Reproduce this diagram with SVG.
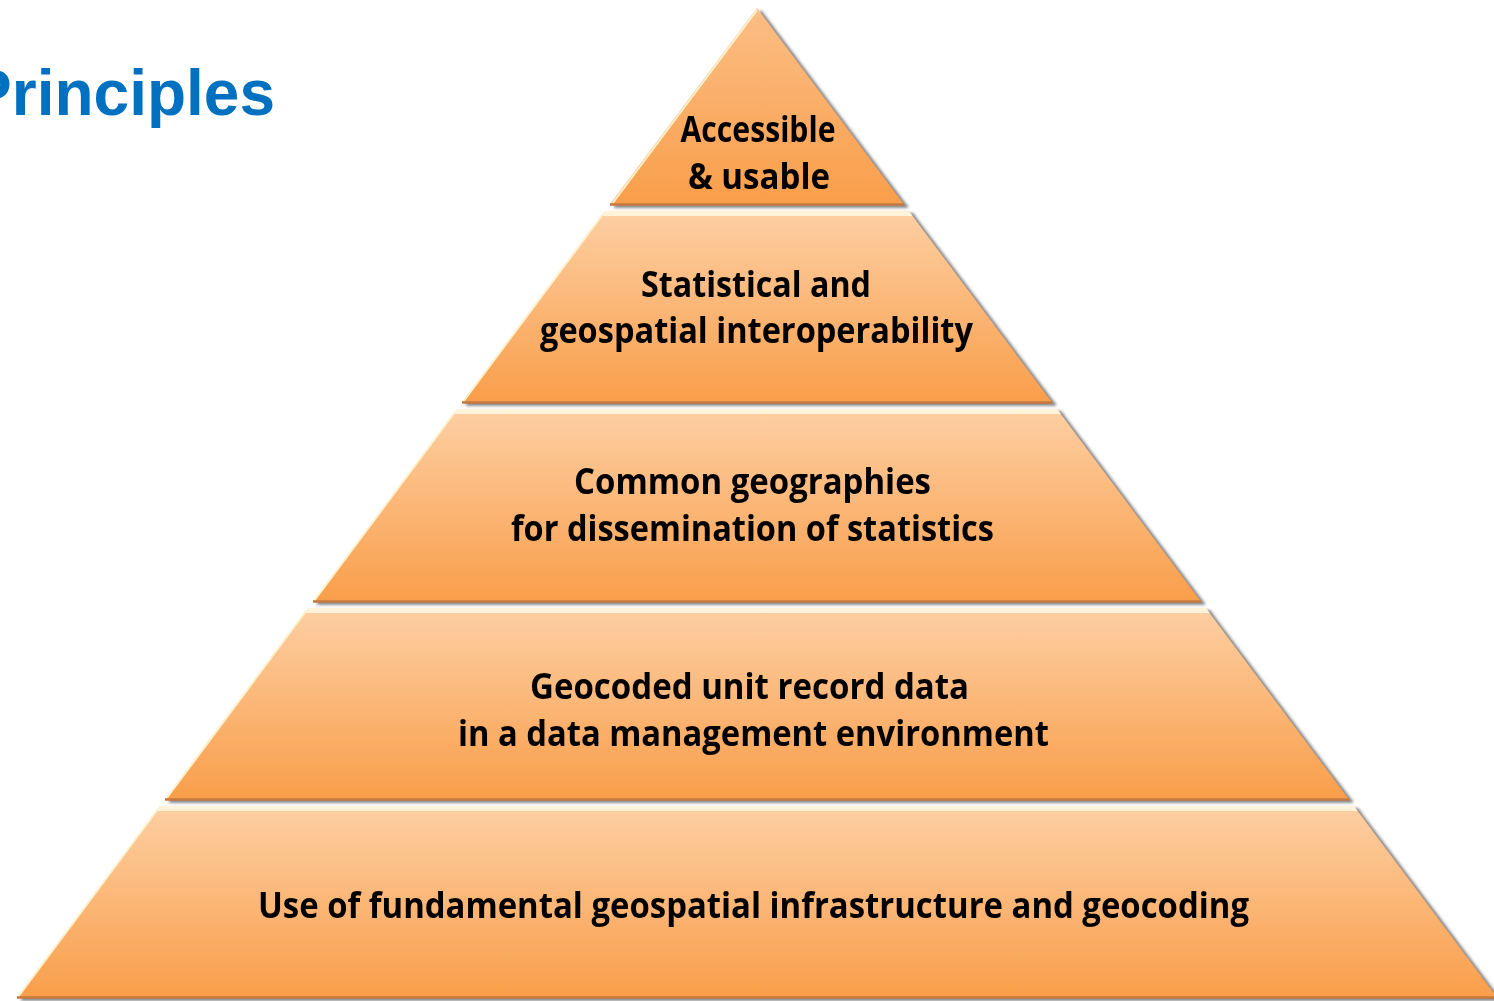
<svg xmlns="http://www.w3.org/2000/svg" width="1494" height="1001" viewBox="0 0 1494 1001">
<style>
.lbl{font-family:"Open Sans","Liberation Sans",sans-serif;font-weight:700;font-size:35px;fill:#000;text-anchor:middle}
.title{font-family:"Liberation Sans",Arial,sans-serif;font-weight:bold;font-size:64px;fill:#0070C0;text-anchor:end}
.body{fill:url(#g)}
.hl{fill:#FFF3DA}
.edge{stroke:#FFF1CC;stroke-width:2;fill:none}
.base{stroke:#C47A3E;stroke-width:2.5}
</style>
<defs>
<linearGradient id="g" x1="0" y1="0" x2="0" y2="1">
<stop offset="0" stop-color="#FDCFA3"/>
<stop offset="1" stop-color="#F99E4A"/>
</linearGradient>
<linearGradient id="g1" x1="0" y1="0" x2="0" y2="1">
<stop offset="0" stop-color="#FBBE85"/>
<stop offset="1" stop-color="#F99E4A"/>
</linearGradient>
<filter id="sh" x="-5%" y="-5%" width="110%" height="115%">
<feGaussianBlur in="SourceAlpha" stdDeviation="1.6" result="b"/>
<feOffset in="b" dx="3.5" dy="1.5" result="o"/>
<feFlood flood-color="#808080" flood-opacity="1"/>
<feComposite in2="o" operator="in" result="s"/>
<feMerge><feMergeNode in="s"/><feMergeNode in="SourceGraphic"/></feMerge>
</filter>
</defs>
<rect width="1494" height="1001" fill="#FFFFFF"/>
<text class="title" x="275" y="115">Principles</text>
<g id="layer1" filter="url(#sh)">
<polygon points="757,8 904.4,205 609.6,205" fill="url(#g1)"/>
<line class="edge" x1="757" y1="10" x2="612" y2="204"/>
<line class="base" x1="610" y1="204.5" x2="904" y2="204.5"/>
<text class="lbl" x="758" y="142" textLength="155" lengthAdjust="spacingAndGlyphs">Accessible</text>
<text class="lbl" x="759" y="189" textLength="142" lengthAdjust="spacingAndGlyphs">&amp; usable</text>
</g>
<g id="layer2" filter="url(#sh)">
<polygon class="body" points="605.2,211 908.8,211 1052.5,403 461.5,403"/>
<polygon class="hl" points="605.2,211 908.8,211 912.5,216 601.5,216"/>
<line class="edge" x1="603" y1="214" x2="463" y2="402"/>
<line class="base" x1="462" y1="402.5" x2="1052" y2="402.5"/>
<text class="lbl" x="756" y="297" textLength="230" lengthAdjust="spacingAndGlyphs">Statistical and</text>
<text class="lbl" x="756.5" y="343" textLength="433" lengthAdjust="spacingAndGlyphs">geospatial interoperability</text>
</g>
<g id="layer3" filter="url(#sh)">
<polygon class="body" points="457,409 1057,409 1201.3,602 312.7,602"/>
<polygon class="hl" points="457,409 1057,409 1060.7,414 453.3,414"/>
<line class="edge" x1="455" y1="412" x2="314" y2="601"/>
<line class="base" x1="313" y1="601.5" x2="1201" y2="601.5"/>
<text class="lbl" x="752.5" y="494" textLength="357" lengthAdjust="spacingAndGlyphs">Common geographies</text>
<text class="lbl" x="752.5" y="541" textLength="483" lengthAdjust="spacingAndGlyphs">for dissemination of statistics</text>
</g>
<g id="layer4" filter="url(#sh)">
<polygon class="body" points="308.2,608 1205.8,608 1349.4,800 164.6,800"/>
<polygon class="hl" points="308.2,608 1205.8,608 1209.5,613 304.5,613"/>
<line class="edge" x1="306" y1="611" x2="166" y2="799"/>
<line class="base" x1="165" y1="799.5" x2="1349" y2="799.5"/>
<text class="lbl" x="749.5" y="699" textLength="439" lengthAdjust="spacingAndGlyphs">Geocoded unit record data</text>
<text class="lbl" x="753.5" y="746" textLength="591" lengthAdjust="spacingAndGlyphs">in a data management environment</text>
</g>
<g id="layer5" filter="url(#sh)">
<polygon class="body" points="160.1,806 1353.9,806 1497.5,998 16.5,998"/>
<polygon class="hl" points="160.1,806 1353.9,806 1357.6,811 156.4,811"/>
<line class="edge" x1="158" y1="809" x2="18" y2="997"/>
<line class="base" x1="17" y1="997.5" x2="1494" y2="997.5"/>
<text class="lbl" x="753.5" y="918" textLength="991" lengthAdjust="spacingAndGlyphs">Use of fundamental geospatial infrastructure and geocoding</text>
</g>
<g id="connectors"/>
</svg>
